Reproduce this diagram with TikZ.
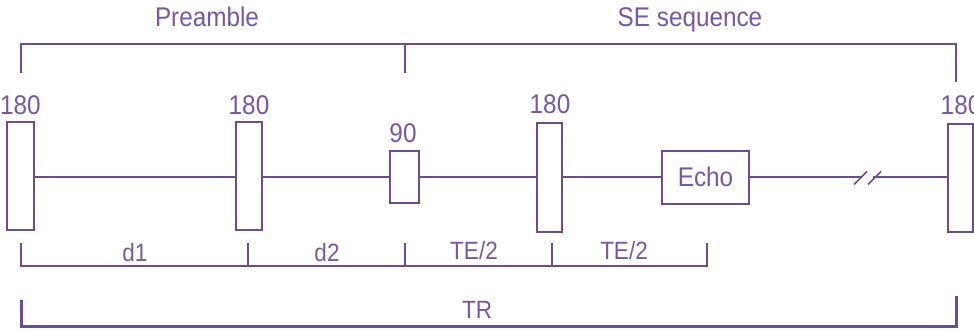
\documentclass[tikz,border=0pt]{standalone}
\usepackage{fontspec}
\setmainfont[FakeStretch=0.9]{Liberation Sans}
\definecolor{seqline}{RGB}{108,76,152}
\definecolor{seqtext}{RGB}{118,88,164}
\begin{document}
\begin{tikzpicture}[x=1pt,y=-1pt,
  every node/.style={inner sep=0pt,outer sep=0pt},
  pulse/.style={draw=seqline,line width=2pt,fill=white,rectangle},
  lbl/.style={anchor=base,text=seqtext,font=\fontsize{27}{32}\selectfont},
  slbl/.style={anchor=base,text=seqtext,font=\fontsize{25}{30}\selectfont},
  wire/.style={draw=seqline,line width=2pt},
  brace/.style={draw=seqline,line width=2pt},
  slash/.style={draw=seqline,line width=1.6pt}]
\useasboundingbox (0,0) rectangle (974,331);

% top brackets
\draw[brace] (21,73) -- (21,44) -- (956,44) -- (956,82);
\draw[brace] (405,44) -- (405,73);
\node[lbl] (preamble) at (207,27) {Preamble};
\node[lbl] (seseq) at (690,27) {SE sequence};

% pulses
\node[pulse,minimum width=27pt,minimum height=107pt] (p1) at (20.5,176) {};
\node[pulse,minimum width=26pt,minimum height=107pt] (p2) at (249,176) {};
\node[pulse,minimum width=29pt,minimum height=52pt] (p3) at (404.5,177.5) {};
\node[pulse,minimum width=25pt,minimum height=109pt] (p4) at (549.5,177.5) {};
\node[pulse,minimum width=87pt,minimum height=53pt] (echo) at (705.5,177.5) {};
\node[pulse,minimum width=25pt,minimum height=108pt] (p5) at (960.5,178) {};
\node[lbl,text=seqtext] at (echo.center) [yshift=-9.5pt] {Echo};

% pulse labels
\node[lbl] (l1) at (20.5,115) {180};
\node[lbl] (l2) at (249,115) {180};
\node[lbl] (l3) at (403,143) {90};
\node[lbl] (l4) at (550,114) {180};
\node[lbl] (l5) at (961,115) {180};

% time line
\coordinate (b1) at (862,177);
\coordinate (b2) at (873,177);
\draw[wire] (p1.east |- 0,177) -- (p2.west |- 0,177);
\draw[wire] (p2.east |- 0,177) -- (p3.west |- 0,177);
\draw[wire] (p3.east |- 0,177) -- (p4.west |- 0,177);
\draw[wire] (p4.east |- 0,177) -- (echo.west |- 0,177);
\draw[wire] (echo.east |- 0,177) -- (b1);
\draw[wire] (b2) -- (p5.west |- 0,177);
\draw[slash] (854,184.5) -- (867,171.5);
\draw[slash] (868,184.5) -- (881,171.5);

% bottom intervals
\draw[brace] (21,243) -- (21,266) -- (707,266) -- (707,243);
\foreach \x in {248,405,552} \draw[brace] (\x,243) -- (\x,266);
\node[slbl] (d1) at (135,261) {d1};
\node[slbl] (d2) at (327,261) {d2};
\node[slbl] (te1) at (474,259) {TE/2};
\node[slbl] (te2) at (624,259) {TE/2};

% TR
\draw[draw=seqline,line width=3pt] (21,300) -- (21,326.5) -- (956,326.5) -- (956,296);
\node[slbl] (tr) at (477,318) {TR};
\end{tikzpicture}
\end{document}
